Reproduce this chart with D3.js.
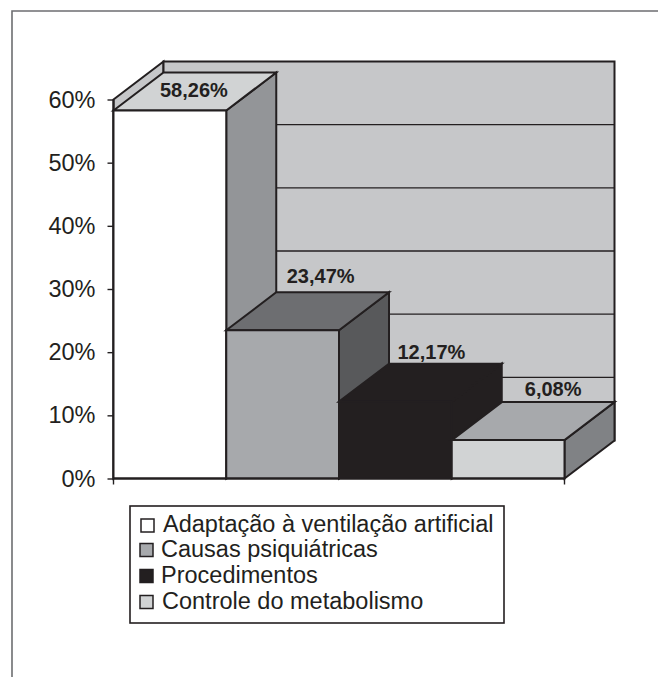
<!DOCTYPE html>
<html>
<head>
<meta charset="utf-8">
<script src="https://cdn.jsdelivr.net/npm/d3@7"></script>
<style>
html,body{margin:0;padding:0;background:#fff}
svg{display:block}
text{font-family:"Liberation Sans",Arial,sans-serif;fill:#231f20}
</style>
</head>
<body>
<div id="chart"></div>
<script>
const categories = ["Adaptação à ventilação artificial","Causas psiquiátricas","Procedimentos","Controle do metabolismo"];
const values = [58.26,23.47,12.17,6.08];
const valueLabels = ["58,26%","23,47%","12,17%","6,08%"];
const yTicks = [0,10,20,30,40,50,60];

const W=658,H=677, ink="#231f20";
const frontFill=["#ffffff","#a7a9ac","#231f20","#d1d3d4"];
const topFill=["#d1d3d4","#6d6e71","#231f20","#a7a9ac"];
const sideFill=["#939598","#58595b","#231f20","#808285"];
const swatchFill=["#ffffff","#a7a9ac","#231f20","#d1d3d4"];
const depthX=50, depthY=38;
const labelDx=[-1,13,11,20], labelDy=[25,-9,-5,-6];
const legendBase=[532,556.5,582.5,608.5], legendTextX=[163,161,161,162], swatchX=[141,140,140,140];

const svg=d3.select("#chart").append("svg").attr("width",W).attr("height",H);
const x=d3.scaleBand().domain(categories).range([113.5,564.5]).padding(0);
const y=d3.scaleLinear().domain([0,60]).range([478.5,99.5]);
const poly=(pts,fill,stroke=ink,sw=2)=>svg.append("polygon")
  .attr("points",pts.map(p=>p.join(",")).join(" "))
  .attr("fill",fill).attr("stroke",stroke).attr("stroke-width",sw).attr("stroke-linejoin","miter");

// outer frame
svg.append("path").attr("d",`M12,677V11H${W}`).attr("fill","none").attr("stroke","#6d6e71").attr("stroke-width",1.6);

// walls
const x0=x.range()[0], x1=x.range()[1];
poly([[x0,y(60)],[x0+depthX,y(60)-depthY],[x0+depthX,y(0)-depthY],[x0,y(0)]],"#c6c7c9");
poly([[x0+depthX,y(60)-depthY],[x1+depthX,y(60)-depthY],[x1+depthX,y(0)-depthY],[x0+depthX,y(0)-depthY]],"#c6c7c9");
svg.append("g").selectAll("line").data(yTicks.slice(1,-1)).join("line")
  .attr("x1",x0+depthX).attr("x2",x1+depthX)
  .attr("y1",d=>y(d)-depthY).attr("y2",d=>y(d)-depthY)
  .attr("stroke",ink).attr("stroke-width",1.4);

// y axis
const axis=svg.append("g").attr("transform",`translate(${x0},0)`)
  .call(d3.axisLeft(y).tickValues(yTicks).tickFormat(d=>d+"%").tickSize(6).tickPadding(12));
axis.select(".domain").attr("stroke",ink).attr("stroke-width",2).attr("d",`M0,${y(60)}V${y(0)}`);
axis.selectAll("line").attr("stroke",ink).attr("stroke-width",1.4);
axis.selectAll("text").attr("font-size",23.5).attr("font-family",'"Liberation Sans",Arial,sans-serif').attr("fill",ink);

// bars
values.forEach((v,i)=>{
  const c=categories[i], l=x(c), r=l+x.bandwidth(), t=y(v), b=y(0);
  poly([[r,t],[r+depthX,t-depthY],[r+depthX,b-depthY],[r,b]],sideFill[i]);
  poly([[l,t],[l+depthX,t-depthY],[r+depthX,t-depthY],[r,t]],topFill[i]);
  poly([[l,t],[r,t],[r,b],[l,b]],frontFill[i]);
});

// x axis baseline
svg.append("path").attr("d",`M${x0},${y(0)}H${x1}`).attr("stroke",ink).attr("stroke-width",2).attr("fill","none");
svg.append("g").selectAll("line").data([x0,x1]).join("line")
  .attr("x1",d=>d).attr("x2",d=>d).attr("y1",y(0)).attr("y2",y(0)+6).attr("stroke",ink).attr("stroke-width",1.4);

// value labels
svg.append("g").selectAll("text").data(valueLabels).join("text")
  .attr("x",(d,i)=>x(categories[i])+x.bandwidth()/2+depthX/2+labelDx[i])
  .attr("y",(d,i)=>y(values[i])-depthY+labelDy[i])
  .attr("text-anchor","middle").attr("font-weight","bold").attr("font-size",20)
  .text(d=>d);

// legend
svg.append("rect").attr("x",130).attr("y",506).attr("width",374).attr("height",117)
  .attr("fill","#fff").attr("stroke",ink).attr("stroke-width",1.6);
const row=svg.append("g").selectAll("g").data(categories).join("g");
row.append("rect").attr("x",(d,i)=>swatchX[i]).attr("y",(d,i)=>legendBase[i]-13)
  .attr("width",13).attr("height",13)
  .attr("fill",(d,i)=>swatchFill[i]).attr("stroke",ink).attr("stroke-width",1.5);
row.append("text").attr("x",(d,i)=>legendTextX[i]).attr("y",(d,i)=>legendBase[i])
  .attr("font-size",23.5).text(d=>d);
</script>
</body>
</html>
